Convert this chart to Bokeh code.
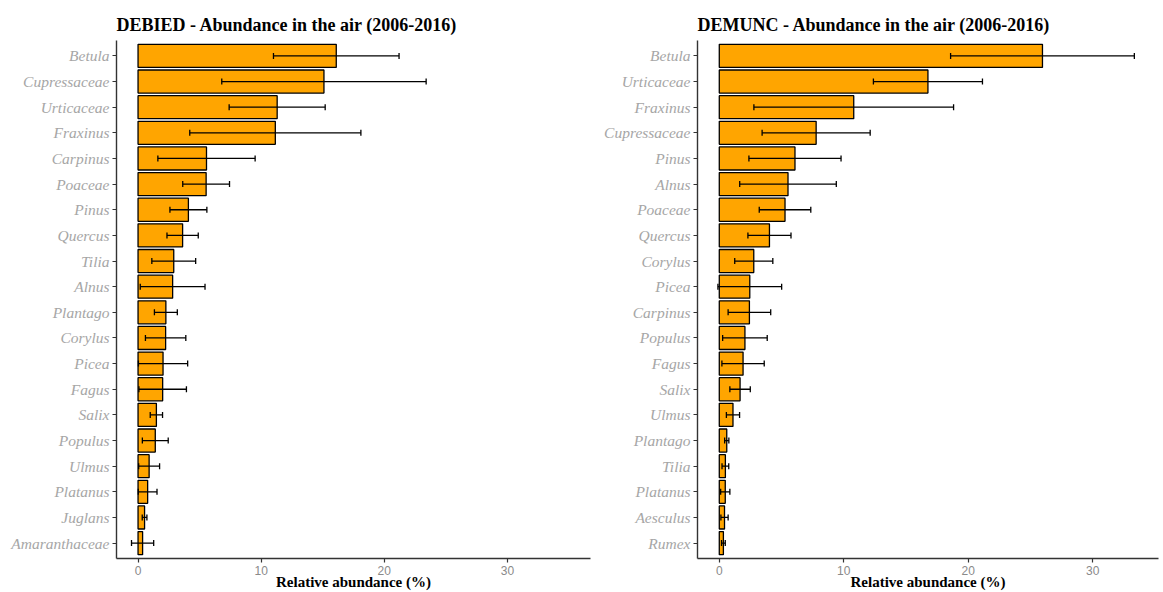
from bokeh.plotting import figure
from bokeh.models import ColumnDataSource, Whisker, TeeHead, FixedTicker, Range1d
from bokeh.layouts import row
from bokeh.embed import file_html
from bokeh.resources import INLINE

# ---- DEBIED ----
taxa_bied = ["Betula", "Cupressaceae", "Urticaceae", "Fraxinus", "Carpinus", "Poaceae",
             "Pinus", "Quercus", "Tilia", "Alnus", "Plantago", "Corylus", "Picea", "Fagus",
             "Salix", "Populus", "Ulmus", "Platanus", "Juglans", "Amaranthaceae"]
mean_bied = [16.1, 15.1, 11.3, 11.15, 5.56, 5.53, 4.09, 3.62, 2.9, 2.81,
             2.26, 2.24, 2.03, 2.0, 1.49, 1.4, 0.9, 0.78, 0.53, 0.37]
sd_bied = [5.1, 8.3, 3.9, 6.95, 3.95, 1.9, 1.5, 1.27, 1.78, 2.63,
           0.93, 1.64, 2.0, 1.93, 0.5, 1.05, 0.85, 0.76, 0.19, 0.9]

# ---- DEMUNC ----
taxa_munc = ["Betula", "Urticaceae", "Fraxinus", "Cupressaceae", "Pinus", "Alnus", "Poaceae",
             "Quercus", "Corylus", "Picea", "Carpinus", "Populus", "Fagus", "Salix", "Ulmus",
             "Plantago", "Tilia", "Platanus", "Aesculus", "Rumex"]
mean_munc = [25.96, 16.76, 10.8, 7.78, 6.08, 5.52, 5.28, 4.03, 2.77, 2.45,
             2.42, 2.06, 1.91, 1.67, 1.1, 0.6, 0.49, 0.48, 0.42, 0.33]
sd_munc = [7.38, 4.38, 8.02, 4.34, 3.7, 3.88, 2.07, 1.73, 1.53, 2.56,
           1.71, 1.79, 1.7, 0.82, 0.53, 0.17, 0.27, 0.37, 0.29, 0.15]

x_ticks = [0, 10, 20, 30]
x_title = "Relative abundance (%)"


def panel(title, taxa, mean, sd, width, border_left, border_right, x_end):
    n = len(taxa)
    ypos = list(range(n, 0, -1))
    lo = [m - s for m, s in zip(mean, sd)]
    hi = [m + s for m, s in zip(mean, sd)]
    src = ColumnDataSource(dict(y=ypos, mean=mean, lo=lo, hi=hi))
    p = figure(width=width, height=592, title=title,
               x_range=Range1d(-1.75, x_end), y_range=Range1d(0.4, n + 0.6),
               output_backend="svg", toolbar_location=None,
               min_border_left=border_left, min_border_right=border_right,
               min_border_top=40, min_border_bottom=34)
    p.hbar(y="y", left=0, right="mean", height=0.9, source=src,
           fill_color="#FFA500", line_color="black", line_width=1.3)
    head = dict(size=6, line_color="black", line_width=1.3)
    w = Whisker(base="y", lower="lo", upper="hi", dimension="width", source=src,
                line_color="black", line_width=1.3, level="overlay",
                upper_head=TeeHead(**head), lower_head=TeeHead(**head))
    p.add_layout(w)

    p.outline_line_color = None
    p.xgrid.visible = False
    p.ygrid.visible = False
    p.background_fill_color = "white"
    p.border_fill_color = "white"

    p.title.text_font = "Liberation Serif"
    p.title.text_font_size = "18px"
    p.title.text_font_style = "bold"
    p.title.text_color = "black"
    p.title.align = "left"
    p.title.standoff = 11

    for ax in (p.xaxis[0], p.yaxis[0]):
        ax.axis_line_color = "#333333"
        ax.axis_line_width = 1.4
        ax.major_tick_line_color = "#333333"
        ax.major_tick_line_width = 1.2
        ax.major_tick_out = 4
        ax.major_tick_in = 0
        ax.minor_tick_line_color = None

    ya = p.yaxis[0]
    ya.ticker = FixedTicker(ticks=ypos)
    ya.major_label_overrides = {y: t for y, t in zip(ypos, taxa)}
    ya.major_label_text_font = "Liberation Serif"
    ya.major_label_text_font_style = "italic"
    ya.major_label_text_font_size = "15.5px"
    ya.major_label_text_color = "#a6a6a6"
    ya.major_label_standoff = 3

    xa = p.xaxis[0]
    xa.ticker = FixedTicker(ticks=x_ticks)
    xa.major_label_text_font = "Liberation Sans"
    xa.major_label_text_font_size = "12px"
    xa.major_label_text_color = "#8a8a8a"
    xa.major_label_standoff = 3
    xa.axis_label = x_title
    xa.axis_label_text_font = "Liberation Serif"
    xa.axis_label_text_font_size = "15px"
    xa.axis_label_text_font_style = "bold"
    xa.axis_label_text_color = "black"
    xa.axis_label_standoff = -4
    return p


p1 = panel("DEBIED - Abundance in the air (2006-2016)", taxa_bied, mean_bied, sd_bied,
           592, 116, 2, 36.75)
p2 = panel("DEMUNC - Abundance in the air (2006-2016)", taxa_munc, mean_munc, sd_munc,
           568, 105, 2, 35.28)

layout = row(p1, p2)
open("out.html", "w").write(file_html(layout, INLINE))
